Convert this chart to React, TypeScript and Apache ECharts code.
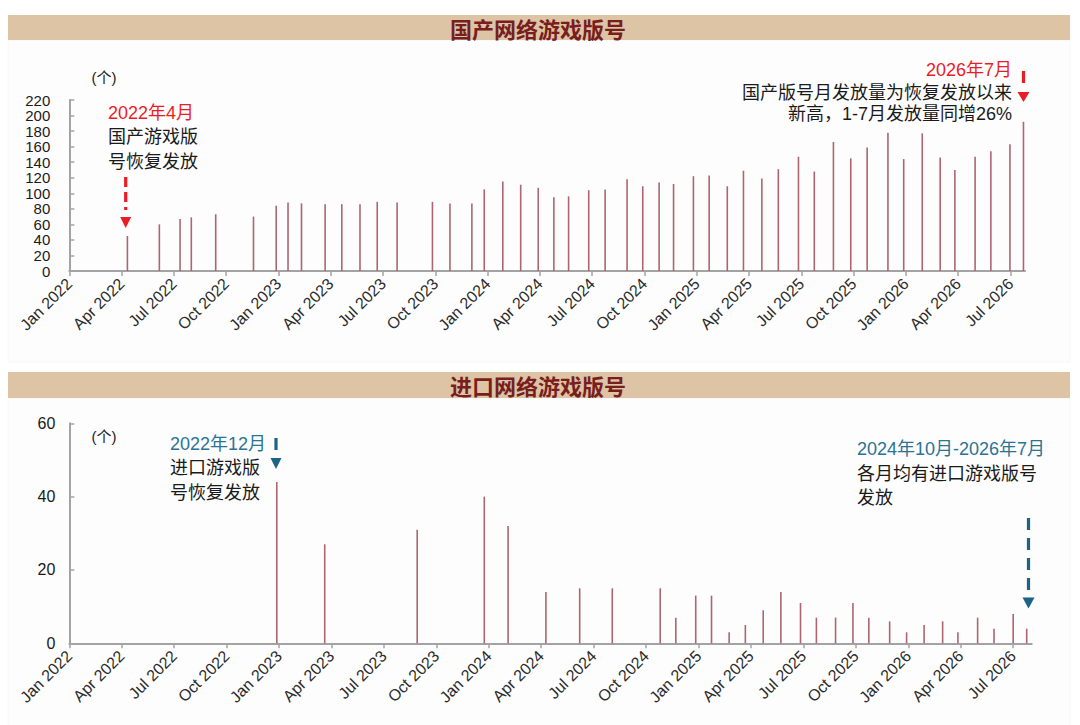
import React, { useEffect, useRef } from "react";
import * as echarts from "echarts";

// ---- Data ----
const domesticDates = [
  "2022-04-11", "2022-06-06", "2022-07-12", "2022-08-01", "2022-09-13", "2022-11-18", "2022-12-28",
  "2023-01-18", "2023-02-10", "2023-03-22", "2023-04-20", "2023-05-22", "2023-06-21", "2023-07-26",
  "2023-09-26", "2023-10-27", "2023-12-04", "2023-12-26",
  "2024-01-28", "2024-02-27", "2024-03-29", "2024-04-25", "2024-05-21", "2024-06-25", "2024-07-24",
  "2024-09-01", "2024-09-28", "2024-10-27", "2024-11-21", "2024-12-26",
  "2025-01-23", "2025-02-22", "2025-03-22", "2025-04-23", "2025-05-22", "2025-06-26", "2025-07-24",
  "2025-08-27", "2025-09-26", "2025-10-25", "2025-11-30", "2025-12-28",
  "2026-01-30", "2026-02-28", "2026-03-26", "2026-04-30", "2026-05-28", "2026-06-30", "2026-07-24",
];
const domesticCounts = [
  45, 60, 67, 69, 73, 70, 84,
  88, 87, 86, 86, 86, 89, 88,
  89, 87, 87, 105,
  115, 111, 107, 95, 96, 104, 105,
  118, 109, 114, 112, 122,
  123, 109, 129, 119, 131, 147, 128,
  166, 145, 159, 178, 144,
  177, 146, 130, 147, 154, 163, 192,
];

const importDates = [
  "2022-12-28", "2023-03-20", "2023-08-29", "2023-12-24",
  "2024-02-04", "2024-04-09", "2024-06-07", "2024-08-03", "2024-10-26", "2024-11-22", "2024-12-27",
  "2025-01-24", "2025-02-22", "2025-03-22", "2025-04-22", "2025-05-23", "2025-06-26", "2025-07-24",
  "2025-08-27", "2025-09-26", "2025-10-24", "2025-11-29", "2025-12-29",
  "2026-01-29", "2026-02-28", "2026-03-27", "2026-04-30", "2026-05-29", "2026-07-01", "2026-07-25",
];
const importCounts = [
  44, 27, 31, 40,
  32, 14, 15, 15, 15, 7, 13,
  13, 3, 5, 9, 14, 11, 7,
  7, 11, 7, 6, 3,
  5, 6, 3, 7, 4, 8, 4,
];

const quarterNames = ["Jan", "Apr", "Jul", "Oct"];
const startYear = 2022;
const tickMonths = [0, 3, 6, 9, 12, 15, 18, 21, 24, 27, 30, 33, 36, 39, 42, 45, 48, 51, 54];

const topTitle = "国产网络游戏版号";
const bottomTitle = "进口网络游戏版号";

// ---- helpers ----
const daysIn = (y: number, m: number) => new Date(Date.UTC(y, m, 0)).getUTCDate();
const toMonth = (s: string) => {
  const [y, m, d] = s.split("-").map(Number);
  return (y - startYear) * 12 + (m - 1) + (d - 1) / daysIn(y, m);
};
const quarterLabel = (v: number) => {
  const r = Math.round(v);
  if (Math.abs(v - r) > 1e-6 || r % 3 !== 0) return "";
  return quarterNames[(r % 12) / 3] + " " + (startYear + Math.floor(r / 12));
};

const LATIN = '"Liberation Sans", Arial, "Noto Sans CJK SC", sans-serif';
const CJK = '"Noto Sans CJK SC", "Liberation Sans", sans-serif';
const RED = "#ec1c24";
const TEAL = "#2a7394";
const TEAL_DARK = "#1c6384";
const AXIS = "#a3a3a3";
const BAR = "#ad6670";

function txt(text: string, x: number, y: number, fill: string, align = "left", size = 18) {
  return {
    type: "text",
    x,
    y,
    z: 10,
    style: {
      text,
      fill,
      fontSize: size,
      fontFamily: LATIN,
      align,
      verticalAlign: "middle",
      textAlign: align,
      textVerticalAlign: "middle",
    },
  };
}

function arrow(x: number, y1: number, y2: number, triTop: number, triH: number, triW: number, color: string, dash: number[]) {
  return [
    {
      type: "line",
      z: 10,
      shape: { x1: x, y1, x2: x, y2 },
      style: { stroke: color, lineWidth: 3.2, lineDash: dash },
    },
    {
      type: "polygon",
      z: 10,
      shape: {
        points: [
          [x - triW / 2, triTop],
          [x + triW / 2, triTop],
          [x, triTop + triH],
        ],
      },
      style: { fill: color },
    },
  ];
}

function xAxisCfg(gridIndex: number, max: number) {
  return {
    type: "value",
    gridIndex,
    min: 0,
    max,
    interval: 3,
    axisLine: { show: true, lineStyle: { color: AXIS, width: 2 } },
    axisTick: { show: true, inside: false, length: 5, customValues: tickMonths, lineStyle: { color: AXIS, width: 1.5 } },
    axisLabel: {
      show: true,
      rotate: 45,
      margin: 10,
      fontSize: 16,
      color: "#2b2b2b",
      fontFamily: LATIN,
      customValues: tickMonths,
      formatter: (v: number) => quarterLabel(v),
    },
    splitLine: { show: false },
  };
}

function yAxisCfg(gridIndex: number, max: number, interval: number, margin: number, size: number) {
  return {
    type: "value",
    gridIndex,
    min: 0,
    max,
    interval,
    axisLine: { show: true, lineStyle: { color: AXIS, width: 2 } },
    axisTick: { show: true, inside: true, length: 5, lineStyle: { color: AXIS, width: 1.5 } },
    axisLabel: {
      show: true,
      margin,
      fontSize: size,
      color: "#1a1a1a",
      fontFamily: LATIN,
      showMinLabel: true,
      showMaxLabel: true,
      hideOverlap: false,
    },
    splitLine: { show: false },
  };
}

export default function App() {
  const ref = useRef<HTMLDivElement>(null);

  useEffect(() => {
    if (!ref.current) return;
    const chart = echarts.init(ref.current, undefined, { renderer: "svg", width: 1080, height: 725 });

    const domesticData = domesticDates.map((d, i) => [toMonth(d), domesticCounts[i]]);
    const importData = importDates.map((d, i) => [toMonth(d), importCounts[i]]);

    const graphics: any[] = [
      // panels
      { type: "rect", z: -10, shape: { x: 8, y: 40, width: 1062, height: 322 }, style: { fill: "#fdfdfd", stroke: "#f6f6f6", lineWidth: 1 } },
      { type: "rect", z: -10, shape: { x: 8, y: 398, width: 1062, height: 330 }, style: { fill: "#fdfdfd", stroke: "#f6f6f6", lineWidth: 1 } },
      // title bars
      { type: "rect", z: 1, shape: { x: 8, y: 15, width: 1062, height: 25 }, style: { fill: "#dcc4a5" } },
      { type: "rect", z: 1, shape: { x: 8, y: 372, width: 1062, height: 26 }, style: { fill: "#dcc4a5" } },
      {
        type: "text", x: 538, y: 28, z: 10,
        style: { text: topTitle, fill: "#7a1d1d", fontSize: 22, fontWeight: "bold", fontFamily: CJK, align: "center", verticalAlign: "middle", textAlign: "center", textVerticalAlign: "middle" },
      },
      {
        type: "text", x: 538, y: 385, z: 10,
        style: { text: bottomTitle, fill: "#7a1d1d", fontSize: 22, fontWeight: "bold", fontFamily: CJK, align: "center", verticalAlign: "middle", textAlign: "center", textVerticalAlign: "middle" },
      },
      // unit labels
      txt("(个)", 104, 77.5, "#1a1a1a", "center", 15),
      txt("(个)", 104, 436, "#1a1a1a", "center", 15),
      // top-left annotation
      txt("2022年4月", 108, 113, RED),
      txt("国产游戏版", 108, 137, "#1a1a1a"),
      txt("号恢复发放", 108, 161.5, "#1a1a1a"),
      ...arrow(125.7, 177, 210, 217, 11, 11, RED, [10, 5]),
      // top-right annotation
      txt("2026年7月", 1012, 70, RED, "right"),
      txt("国产版号月发放量为恢复发放以来", 1012, 92.5, "#1a1a1a", "right"),
      txt("新高，1-7月发放量同增26%", 1012, 114, "#1a1a1a", "right"),
      ...arrow(1023.5, 71, 83, 92, 10, 12, RED, [12, 20]),
      // bottom-left annotation
      txt("2022年12月", 170, 444, TEAL),
      txt("进口游戏版", 170, 467.5, "#1a1a1a"),
      txt("号恢复发放", 170, 492.5, "#1a1a1a"),
      ...arrow(276, 438, 450, 458, 11, 11, TEAL_DARK, [12, 20]),
      // bottom-right annotation
      txt("2024年10月-2026年7月", 857, 449, TEAL),
      txt("各月均有进口游戏版号", 857, 474, "#1a1a1a"),
      txt("发放", 857, 498, "#1a1a1a"),
      ...arrow(1028.5, 518, 595, 597.5, 11, 12, TEAL_DARK, [12, 8]),
    ];

    chart.setOption({
      animation: false,
      backgroundColor: "#ffffff",
      grid: [
        { left: 69.3, top: 100, width: 955.7, height: 171, containLabel: false, outerBoundsMode: "none" },
        { left: 69.3, top: 423.3, width: 962.4, height: 220, containLabel: false, outerBoundsMode: "none" },
      ],
      xAxis: [xAxisCfg(0, 54.83), xAxisCfg(1, 55.06)],
      yAxis: [yAxisCfg(0, 220, 20, 19, 15), yAxisCfg(1, 60, 20, 14, 16)],
      graphic: graphics,
      series: [
        {
          type: "bar",
          name: topTitle,
          xAxisIndex: 0,
          yAxisIndex: 0,
          barWidth: 1.6,
          itemStyle: { color: BAR },
          data: domesticData,
        },
        {
          type: "bar",
          name: bottomTitle,
          xAxisIndex: 1,
          yAxisIndex: 1,
          barWidth: 1.6,
          itemStyle: { color: BAR },
          data: importData,
        },
      ],
    });

    return () => chart.dispose();
  }, []);

  return (
    <div
      ref={ref}
      style={{ position: "fixed", left: 0, top: 0, width: 1080, height: 725, background: "#ffffff" }}
    />
  );
}
